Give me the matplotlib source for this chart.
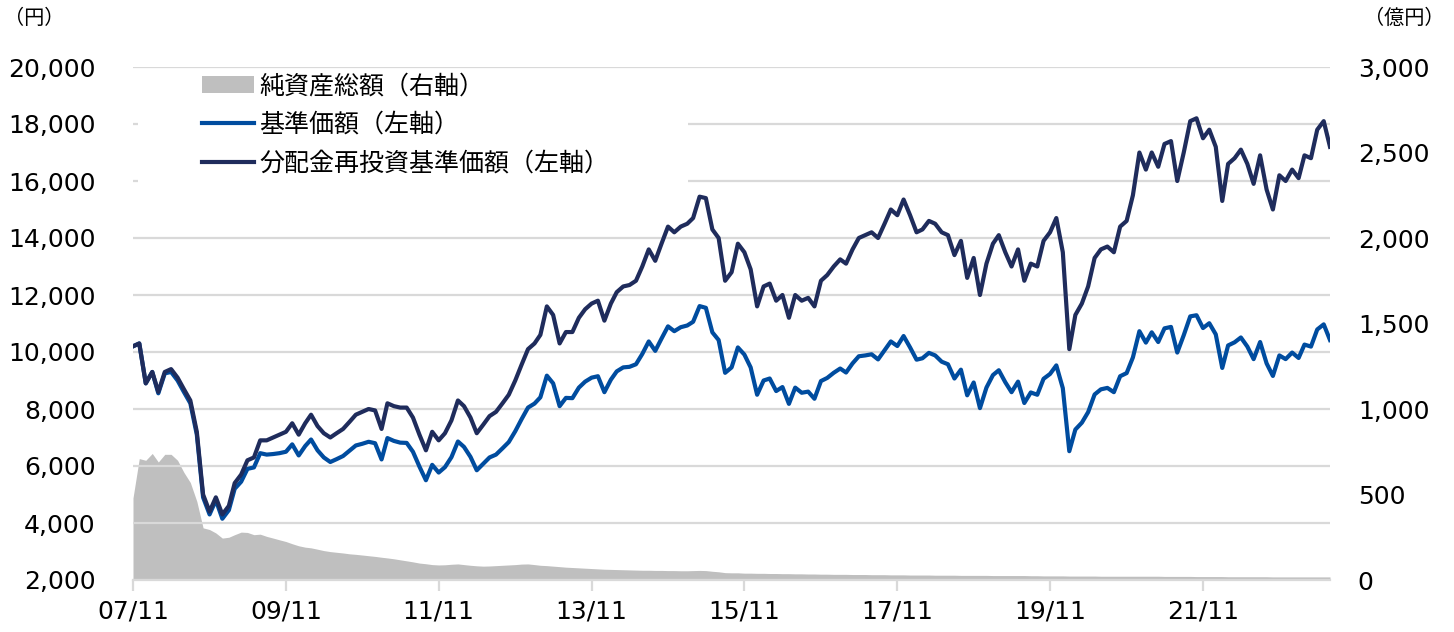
import matplotlib
matplotlib.use("Agg")
import matplotlib.pyplot as plt
import matplotlib.dates as mdates
from matplotlib.patches import Rectangle
import pandas as pd

plt.rcParams["font.family"] = ["DejaVu Sans", "Noto Sans CJK JP"]

# monthly points, 2007/11 - 2023/07
dates = pd.date_range("2007-11-01", periods=189, freq="MS")

# 分配金再投資基準価額 (円)
nav_reinvested = [
    10200, 10300, 8900, 9300, 8600, 9300, 9400, 9100, 8700, 8300,
    7200, 5000, 4400, 4900, 4300, 4600, 5400, 5700, 6200, 6300,
    6900, 6900, 7000, 7100, 7200, 7500, 7100, 7500, 7800, 7400,
    7150, 7000, 7150, 7300, 7550, 7800, 7900, 8000, 7950, 7300,
    8200, 8100, 8050, 8050, 7700, 7100, 6550, 7200, 6900, 7150,
    7600, 8300, 8100, 7700, 7150, 7450, 7750, 7900, 8200, 8500,
    9000, 9550, 10100, 10300, 10600, 11600, 11300, 10300, 10700, 10700,
    11200, 11500, 11700, 11800, 11100, 11700, 12100, 12300, 12350, 12500,
    13000, 13600, 13200, 13800, 14400, 14200, 14400, 14500, 14700, 15450,
    15400, 14300, 14000, 12500, 12800, 13800, 13500, 12900, 11600, 12300,
    12400, 11800, 12000, 11200, 12000, 11800, 11900, 11600, 12500, 12700,
    13000, 13250, 13100, 13600, 14000, 14100, 14200, 14000, 14500, 15000,
    14800, 15350, 14800, 14200, 14300, 14600, 14500, 14200, 14100, 13400,
    13900, 12600, 13300, 12000, 13100, 13800, 14100, 13500, 13000, 13600,
    12500, 13100, 13000, 13900, 14200, 14700, 13500, 10100, 11300, 11700,
    12300, 13300, 13600, 13700, 13500, 14400, 14600, 15500, 17000, 16400,
    17000, 16500, 17300, 17400, 16000, 17000, 18100, 18200, 17500, 17800,
    17200, 15300, 16600, 16800, 17100, 16600, 15900, 16900, 15700, 15000,
    16200, 16000, 16400, 16100, 16900, 16800, 17800, 18100, 17200,
]

# 基準価額 (円)
nav = [
    10200, 10300, 8900, 9300, 8550, 9250, 9300, 9000, 8600, 8200,
    7100, 4900, 4300, 4800, 4150, 4450, 5200, 5450, 5900, 5950,
    6450, 6400, 6420, 6450, 6500, 6760, 6370, 6700, 6930, 6550,
    6300, 6140, 6240, 6350, 6540, 6720, 6780, 6850, 6800, 6230,
    6980, 6880, 6820, 6810, 6500, 5980, 5500, 6040, 5770, 5960,
    6310, 6860, 6670, 6320, 5850, 6080, 6300, 6400, 6620, 6840,
    7220, 7640, 8050, 8190, 8410, 9170, 8900, 8100, 8390, 8380,
    8750, 8960, 9100, 9150, 8590, 9030, 9320, 9460, 9480, 9570,
    9930, 10370, 10040, 10470, 10900, 10730, 10870, 10930, 11060, 11610,
    11550, 10690, 10420, 9270, 9460, 10160, 9910, 9460, 8500, 9000,
    9070, 8630, 8770, 8180, 8750, 8570, 8610, 8360, 8980, 9090,
    9270, 9420, 9280, 9600, 9850, 9880, 9920, 9740, 10060, 10370,
    10210, 10560, 10160, 9730, 9780, 9970, 9880, 9660, 9570, 9070,
    9380, 8480, 8930, 8030, 8750, 9190, 9360, 8940, 8590, 8960,
    8210, 8580, 8500, 9060, 9230, 9530, 8730, 6520, 7280, 7520,
    7890, 8510, 8690, 8740, 8590, 9150, 9260, 9810, 10730, 10330,
    10690, 10350, 10830, 10880, 9980, 10590, 11250, 11290, 10840, 11010,
    10620, 9440, 10230, 10340, 10510, 10190, 9750, 10350, 9600, 9160,
    9880, 9750, 9980, 9790, 10260, 10190, 10790, 10970, 10420,
]

# 純資産総額 (億円)
net_assets = [
    480, 710, 700, 740, 690, 735, 735, 700, 630, 570,
    460, 305, 295, 275, 245, 250, 265, 280, 278, 265,
    268, 255, 245, 235, 225, 212, 200, 192, 188, 180,
    172, 166, 162, 158, 153, 150, 146, 142, 138, 133,
    129, 124, 118, 112, 106, 99, 95, 90, 88, 89,
    92, 94, 90, 86, 83, 81, 82, 84, 86, 88,
    90, 93, 94, 90, 86, 84, 81, 78, 75, 73,
    71, 69, 67, 65, 63, 62, 61, 60, 59, 58,
    57, 57, 56, 56, 55, 55, 54, 54, 55, 56,
    55, 51, 48, 43, 42, 42, 40, 40, 39, 39,
    38, 38, 37, 37, 36, 36, 35, 35, 34, 34,
    33, 33, 33, 32, 32, 32, 31, 31, 31, 30,
    30, 30, 29, 29, 29, 29, 28, 28, 28, 28,
    27, 27, 27, 27, 27, 26, 26, 26, 26, 26,
    26, 25, 25, 24, 24, 24, 24, 23, 23, 23,
    23, 23, 22, 22, 22, 22, 22, 22, 22, 22,
    22, 22, 21, 21, 21, 21, 21, 20, 20, 20,
    20, 20, 19, 19, 19, 19, 19, 19, 19, 18,
    18, 18, 18, 18, 18, 18, 18, 18, 18,
]

left_ticks = list(range(2000, 20001, 2000))
right_ticks = list(range(0, 3001, 500))
x_ticks = pd.to_datetime(["2007-11-01", "2009-11-01", "2011-11-01", "2013-11-01",
                          "2015-11-01", "2017-11-01", "2019-11-01", "2021-11-01"])

GRAY = "#bfbfbf"
BLUE = "#004c9f"
NAVY = "#1f2c5c"
GRID = "#d9d9d9"

fig = plt.figure(figsize=(14.54, 6.32), dpi=100)
ax = fig.add_axes([133 / 1454, 52 / 632, 1197 / 1454, 513 / 632])
ax2 = ax.twinx()
ax.set_zorder(ax2.get_zorder() + 1)
ax.patch.set_visible(False)

ax2.fill_between(dates, 0, net_assets, color=GRAY, linewidth=0, label="純資産総額（右軸）")
ax.plot(dates, nav, color=BLUE, lw=3, label="基準価額（左軸）", zorder=3)
ax.plot(dates, nav_reinvested, color=NAVY, lw=3, label="分配金再投資基準価額（左軸）", zorder=4)

ax.set_ylim(2000, 20000)
ax2.set_ylim(0, 3000)
ax.set_xlim(dates[0], dates[-1])
ax.set_yticks(left_ticks)
ax2.set_yticks(right_ticks)
ax.yaxis.set_major_formatter(matplotlib.ticker.FuncFormatter(lambda v, p: f"{v:,.0f}"))
ax2.yaxis.set_major_formatter(matplotlib.ticker.FuncFormatter(lambda v, p: f"{v:,.0f}"))
ax.set_xticks(x_ticks)
ax.xaxis.set_major_formatter(mdates.DateFormatter("%y/%m"))

ax.grid(axis="y", color=GRID, lw=1.6)
ax.set_axisbelow(True)
for a in (ax, ax2):
    for s in a.spines.values():
        s.set_visible(False)
ax.spines["bottom"].set_visible(True)
ax.spines["bottom"].set_color(GRID)
ax.spines["bottom"].set_linewidth(1.6)
ax.tick_params(axis="y", length=0, pad=27, labelsize=18, colors="black")
ax2.tick_params(axis="y", length=0, pad=20, labelsize=18)
ax.tick_params(axis="x", length=8, width=1.6, color=GRID, pad=6, labelsize=18)

# white box behind the legend
ax.add_patch(Rectangle((0.004, 0.75), 0.46, 0.245, transform=ax.transAxes,
                       facecolor="white", edgecolor="none", zorder=1))
h1, l1 = ax2.get_legend_handles_labels()
h2, l2 = ax.get_legend_handles_labels()
leg = ax.legend(h1 + h2, l1 + l2, loc="upper left", bbox_to_anchor=(0.047, 1.012),
                frameon=False, handlelength=2.1, handletextpad=0.2, labelspacing=0.5,
                borderpad=0, prop={"family": "Noto Sans CJK JP", "size": 18})
leg.set_zorder(5)

fig.text(4 / 1454, 1 - 18 / 632, "（円）", ha="left", va="center", fontsize=14.5,
         family="Noto Sans CJK JP")
fig.text(1444 / 1454, 1 - 18 / 632, "（億円）", ha="right", va="center", fontsize=14.5,
         family="Noto Sans CJK JP")

fig.savefig("out.png", dpi=100)
